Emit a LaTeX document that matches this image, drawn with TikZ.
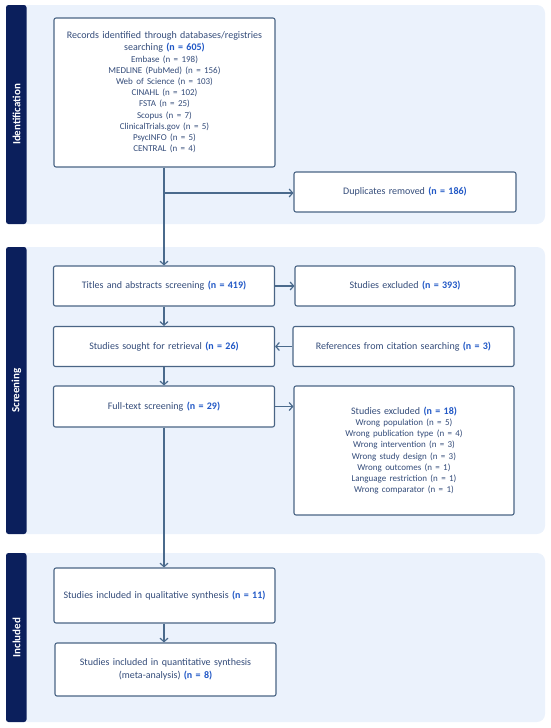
\documentclass[tikz,border=0pt]{standalone}
\usepackage{fontspec}
\setmainfont{Carlito}
\usetikzlibrary{arrows.meta}
\definecolor{bandc}{HTML}{0B1F5C}
\definecolor{bgc}{HTML}{EBF2FC}
\definecolor{boxc}{HTML}{4A6585}
\definecolor{txtc}{HTML}{344C7A}
\definecolor{numc}{HTML}{2158C6}
\definecolor{arrc}{HTML}{4A6A8C}
\newcommand{\nb}[1]{\textbf{\color{numc}#1}}
\newcommand{\hdrf}{\fontsize{10}{12}\selectfont}
\newcommand{\lstf}{\fontsize{9}{11.2}\selectfont}
\tikzset{
  bx/.style={draw=boxc, line width=1.1pt, fill=white, rounded corners=2pt,
    text=txtc, align=center, inner sep=0pt, font=\hdrf},
  bandbg/.style={fill=bgc, rounded corners=8pt},
  bandbar/.style={fill=bandc, rounded corners=2.5pt},
  bandlbl/.style={text=white, font=\fontsize{11}{13}\selectfont\bfseries, rotate=90},
  arr/.style={draw=arrc, line width=1.3pt, -{Straight Barb[length=3.5pt,width=8pt,line width=1.2pt]}},
  ln/.style={draw=arrc, line width=1.3pt}
}
\begin{document}
\begin{tikzpicture}[x=1pt,y=-1pt]
\useasboundingbox (0,0) rectangle (550,728);
% bands
\fill[bandbg] (20,5) rectangle (545,224);
\fill[bandbar] (6,5) rectangle (26.5,224);
\node[bandlbl] (lid) at (16.5,114.5) {Identification};
\fill[bandbg] (20,247) rectangle (545,534);
\fill[bandbar] (6,247) rectangle (26.5,534);
\node[bandlbl] (lsc) at (16.5,390.5) {Screening};
\fill[bandbg] (20,553) rectangle (545,722);
\fill[bandbar] (6,553) rectangle (26.5,722);
\node[bandlbl] (lin) at (16.5,637.5) {Included};
% boxes
\node[bx, minimum width=221pt, minimum height=149pt, text width=215pt] (rec) at (164.5,92.5)
 {{\hdrf Records identified through databases/registries\\ searching \nb{(n = 605)}\\}
  {\lstf Embase (n = 198)\\ MEDLINE (PubMed) (n = 156)\\ Web of Science (n = 103)\\ CINAHL (n = 102)\\ FSTA (n = 25)\\ Scopus (n = 7)\\ ClinicalTrials.gov (n = 5)\\ PsycINFO (n = 5)\\ CENTRAL (n = 4)\par}};
\node[bx, minimum width=222pt, minimum height=40pt, text width=215pt] (dup) at (405,192) {Duplicates removed \nb{(n = 186)}};
\node[bx, minimum width=221pt, minimum height=40pt, text width=215pt] (tit) at (164,286) {Titles and abstracts screening \nb{(n = 419)}};
\node[bx, minimum width=220pt, minimum height=40pt, text width=215pt] (ex1) at (405,286) {Studies excluded \nb{(n = 393)}};
\node[bx, minimum width=221pt, minimum height=40pt, text width=215pt] (sou) at (164,346.5) {Studies sought for retrieval \nb{(n = 26)}};
\node[bx, minimum width=221pt, minimum height=40pt, text width=215pt] (ref) at (403.5,346.5) {References from citation searching \nb{(n = 3)}};
\node[bx, minimum width=221pt, minimum height=41pt, text width=215pt] (ful) at (164,406.5) {Full-text screening \nb{(n = 29)}};
\node[bx, minimum width=220pt, minimum height=129pt, text width=214pt] (ex2) at (404,450.5)
 {{\hdrf Studies excluded \nb{(n = 18)}\\}
  {\lstf Wrong population (n = 5)\\ Wrong publication type (n = 4)\\ Wrong intervention (n = 3)\\ Wrong study design (n = 3)\\ Wrong outcomes (n = 1)\\ Language restriction (n = 1)\\ Wrong comparator (n = 1)\par}};
\node[bx, minimum width=221pt, minimum height=55pt, text width=215pt] (qua) at (164.5,595.5) {Studies included in qualitative synthesis \nb{(n = 11)}};
\node[bx, minimum width=221pt, minimum height=53pt, text width=215pt, font={\fontsize{10}{13}\selectfont}] (qnt) at (165.5,669.5) {Studies included in quantitative synthesis\\ (meta-analysis) \nb{(n = 8)}};
% connectors
\coordinate (br) at (164,193);
\draw[arr] (rec.south -| br) -- (tit.north -| br);
\draw[arr] (br) -- (br -| dup.west);
\draw[arr] (tit.east) -- (ex1.west |- tit.east);
\draw[arr] (tit.south -| br) -- (sou.north -| br);
\draw[arr] (ref.west) -- (sou.east |- ref.west);
\draw[arr] (sou.south -| br) -- (ful.north -| br);
\draw[arr] (ful.east) -- (ex2.west |- ful.east);
\draw[arr] (ful.south -| br) -- (qua.north -| br);
\draw[arr] (qua.south -| br) -- (qnt.north -| br);
\end{tikzpicture}
\end{document}
